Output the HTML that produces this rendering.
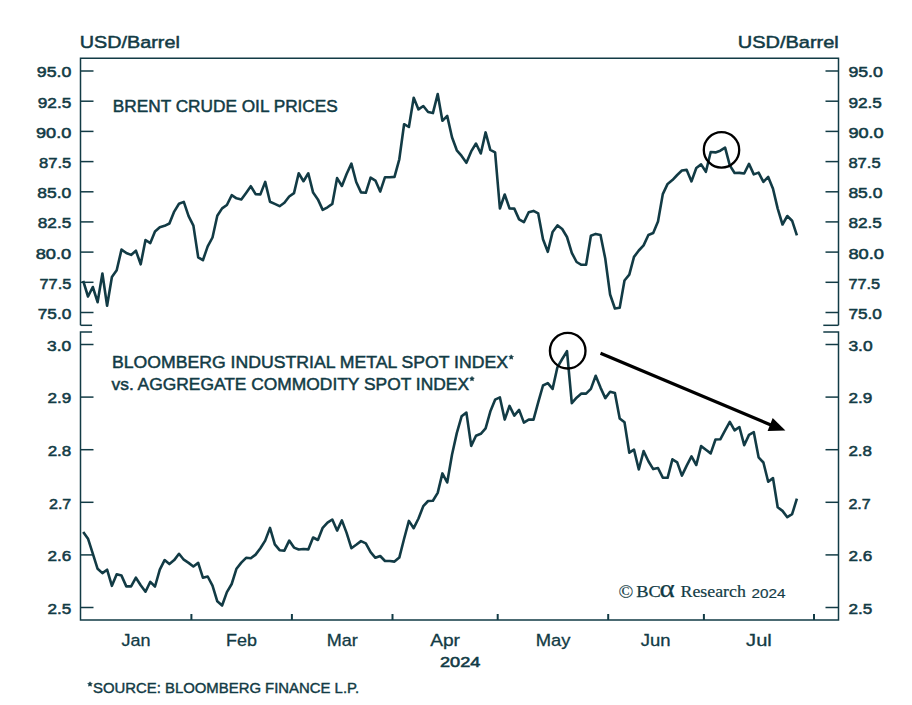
<!DOCTYPE html>
<html><head><meta charset="utf-8"><style>
html,body{margin:0;padding:0;background:#fff;width:912px;height:705px;overflow:hidden}
svg{display:block}
</style></head><body>
<svg width="912" height="705" viewBox="0 0 912 705">
<rect width="912" height="705" fill="#fff"/>
<g stroke="#123b45" stroke-width="1.5" fill="none" stroke-linecap="butt">
<path d="M80.5,325.3 V58.2 H838.5 V325.3"/>
<path d="M80.5,325.3 H92.1"/><path d="M838.5,325.3 H823.3"/>
<path d="M92.1,332.0 H80.5 V620.0 H838.5 V332.0 H823.3"/>
<path d="M80.5,71.0 H93.5"/><path d="M838.5,71.0 H825.5"/>
<path d="M80.5,101.2 H93.5"/><path d="M838.5,101.2 H825.5"/>
<path d="M80.5,131.4 H93.5"/><path d="M838.5,131.4 H825.5"/>
<path d="M80.5,161.6 H93.5"/><path d="M838.5,161.6 H825.5"/>
<path d="M80.5,191.8 H93.5"/><path d="M838.5,191.8 H825.5"/>
<path d="M80.5,221.9 H93.5"/><path d="M838.5,221.9 H825.5"/>
<path d="M80.5,252.1 H93.5"/><path d="M838.5,252.1 H825.5"/>
<path d="M80.5,282.3 H93.5"/><path d="M838.5,282.3 H825.5"/>
<path d="M80.5,312.5 H93.5"/><path d="M838.5,312.5 H825.5"/>
<path d="M80.5,344.5 H93.5"/><path d="M838.5,344.5 H825.5"/>
<path d="M80.5,397.1 H93.5"/><path d="M838.5,397.1 H825.5"/>
<path d="M80.5,449.7 H93.5"/><path d="M838.5,449.7 H825.5"/>
<path d="M80.5,502.3 H93.5"/><path d="M838.5,502.3 H825.5"/>
<path d="M80.5,554.9 H93.5"/><path d="M838.5,554.9 H825.5"/>
<path d="M80.5,607.5 H93.5"/><path d="M838.5,607.5 H825.5"/>
<path d="M191.4,620.0 V614.0" stroke-width="2"/>
<path d="M291.9,620.0 V614.0" stroke-width="2"/>
<path d="M392.5,620.0 V614.0" stroke-width="2"/>
<path d="M497.7,620.0 V614.0" stroke-width="2"/>
<path d="M608.2,620.0 V614.0" stroke-width="2"/>
<path d="M703.9,620.0 V614.0" stroke-width="2"/>
<path d="M814.0,620.0 V614.0" stroke-width="2"/>
</g>
<polyline fill="none" stroke="#123b45" stroke-width="2.6" stroke-linejoin="round" points="83.2,280.9 88.0,296.5 92.8,287.0 97.6,302.2 102.4,273.5 107.1,305.7 111.9,277.0 116.7,270.3 121.5,249.6 126.3,253.0 131.1,254.9 135.9,250.7 140.7,264.3 145.5,240.0 150.3,243.1 155.0,231.4 159.8,227.2 164.6,225.8 169.4,223.5 174.2,211.6 179.0,203.8 183.8,201.9 188.6,216.1 193.4,225.6 198.2,257.3 202.9,260.2 207.7,246.4 212.5,237.5 217.3,215.8 222.1,208.4 226.9,205.0 231.7,195.2 236.5,198.3 241.3,199.5 246.1,192.9 250.8,186.2 255.6,194.1 260.4,194.4 265.2,181.9 270.0,201.7 274.8,203.9 279.6,206.2 284.4,202.8 289.2,196.5 294.0,193.1 298.7,173.3 303.5,181.2 308.3,173.3 313.1,192.6 317.9,199.4 322.7,209.9 327.5,207.3 332.3,203.9 337.1,178.1 341.9,186.0 346.6,174.0 351.4,163.6 356.2,182.0 361.0,192.4 365.8,192.8 370.6,177.7 375.4,180.6 380.2,191.6 385.0,177.2 389.8,177.2 394.5,176.9 399.3,159.3 404.1,124.2 408.9,127.0 413.7,97.7 418.5,109.4 423.3,106.0 428.1,112.0 432.9,113.1 437.7,94.1 442.4,120.8 447.2,115.9 452.0,137.2 456.8,150.3 461.6,155.9 466.4,162.8 471.2,151.4 476.0,143.5 480.8,153.5 485.6,132.4 490.3,149.9 495.1,152.4 499.9,208.5 504.7,194.5 509.5,208.4 514.3,208.6 519.1,219.4 523.9,222.2 528.7,212.3 533.5,210.9 538.2,213.4 543.0,239.3 547.8,251.8 552.6,231.9 557.4,225.4 562.2,229.0 567.0,237.0 571.8,252.9 576.6,262.0 581.4,264.8 586.1,264.8 590.9,235.8 595.7,233.9 600.5,234.9 605.3,258.8 610.1,294.5 614.9,308.5 619.7,307.7 624.5,280.5 629.3,274.7 634.0,256.9 638.8,250.5 643.6,245.4 648.4,235.0 653.2,233.0 658.0,221.5 662.8,194.1 667.6,183.9 672.4,180.1 677.2,175.0 681.9,170.5 686.7,169.9 691.5,181.4 696.3,168.0 701.1,164.4 705.9,171.8 710.7,152.0 715.5,152.4 720.3,150.7 725.1,147.6 729.8,165.4 734.6,173.0 739.4,172.9 744.2,173.5 749.0,163.9 753.8,174.4 758.6,172.6 763.4,181.8 768.2,176.9 773.0,188.8 777.7,208.6 782.5,224.5 787.3,216.0 792.1,220.7 796.9,235.4"/>
<polyline fill="none" stroke="#123b45" stroke-width="2.6" stroke-linejoin="round" points="83.2,531.9 88.0,538.7 92.8,553.6 97.6,568.8 102.4,573.1 107.1,569.7 111.9,585.8 116.7,574.3 121.5,575.6 126.3,586.4 131.1,586.4 135.9,577.7 140.7,585.3 145.5,591.7 150.3,581.8 155.0,586.5 159.8,569.7 164.6,560.1 169.4,564.1 174.2,560.1 179.0,553.8 183.8,559.7 188.6,562.9 193.4,566.5 198.2,562.9 202.9,577.7 207.7,576.5 212.5,585.6 217.3,601.3 222.1,605.5 226.9,592.1 231.7,584.0 236.5,568.7 241.3,562.6 246.1,557.8 250.8,558.2 255.6,554.6 260.4,548.3 265.2,540.6 270.0,527.9 274.8,544.4 279.6,550.2 284.4,550.6 289.2,540.6 294.0,547.6 298.7,549.5 303.5,549.0 308.3,549.4 313.1,537.5 317.9,540.0 322.7,527.8 327.5,522.7 332.3,519.5 337.1,530.6 341.9,520.4 346.6,532.9 351.4,548.2 356.2,544.8 361.0,541.1 365.8,543.4 370.6,552.2 375.4,557.8 380.2,556.0 385.0,561.0 389.8,561.0 394.5,561.6 399.3,557.6 404.1,538.7 408.9,520.9 413.7,528.2 418.5,518.5 423.3,506.1 428.1,501.0 432.9,500.7 437.7,492.9 442.4,473.4 447.2,482.5 452.0,454.7 456.8,433.1 461.6,416.3 466.4,412.6 471.2,445.9 476.0,435.8 480.8,433.8 485.6,428.4 490.3,411.6 495.1,399.7 499.9,397.4 504.7,419.6 509.5,405.9 514.3,415.6 519.1,409.9 523.9,422.6 528.7,419.6 533.5,419.6 538.2,402.4 543.0,385.5 547.8,383.2 552.6,388.9 557.4,367.3 562.2,359.0 567.0,351.2 571.8,403.1 576.6,397.7 581.4,393.6 586.1,393.6 590.9,388.9 595.7,375.8 600.5,387.6 605.3,398.1 610.1,391.8 614.9,393.1 619.7,418.4 624.5,422.3 629.3,452.7 634.0,449.6 638.8,469.5 643.6,451.1 648.4,461.3 653.2,469.1 658.0,468.0 662.8,477.6 667.6,477.8 672.4,459.3 677.2,462.4 681.9,475.6 686.7,465.6 691.5,456.3 696.3,465.0 701.1,446.1 705.9,449.7 710.7,453.4 715.5,439.5 720.3,439.3 725.1,430.4 729.8,421.9 734.6,430.4 739.4,427.0 744.2,445.2 749.0,434.9 753.8,432.2 758.6,457.3 763.4,462.5 768.2,481.8 773.0,478.1 777.7,507.2 782.5,510.9 787.3,517.2 792.1,514.2 796.9,498.7"/>
<circle cx="721.5" cy="149.9" r="17.7" fill="none" stroke="#000" stroke-width="2.3"/>
<circle cx="567.7" cy="350.7" r="17.8" fill="none" stroke="#000" stroke-width="2.3"/>
<path d="M600.5,353.3 L775,426.7" stroke="#000" stroke-width="3.2" fill="none"/>
<path d="M785.4,430.5 L772.7,418 L767.6,430.9 Z" fill="#000"/>
<g fill="#123b45" font-family="Liberation Sans, sans-serif">
<text x="79.8" y="47.6" font-size="17.4" textLength="100" lengthAdjust="spacingAndGlyphs" stroke="#123b45" stroke-width="0.5">USD/Barrel</text>
<text x="737.8" y="47.6" font-size="17.4" textLength="101" lengthAdjust="spacingAndGlyphs" stroke="#123b45" stroke-width="0.5">USD/Barrel</text>
<text x="36.8" y="77.3" font-size="15.5" stroke="#123b45" stroke-width="0.55" textLength="34.5" lengthAdjust="spacingAndGlyphs">95.0</text>
<text x="848.4" y="77.3" font-size="15.5" stroke="#123b45" stroke-width="0.55" textLength="34.5" lengthAdjust="spacingAndGlyphs">95.0</text>
<text x="37.8" y="107.5" font-size="15.5" stroke="#123b45" stroke-width="0.55" textLength="33.5" lengthAdjust="spacingAndGlyphs">92.5</text>
<text x="848.4" y="107.5" font-size="15.5" stroke="#123b45" stroke-width="0.55" textLength="33.5" lengthAdjust="spacingAndGlyphs">92.5</text>
<text x="36.0" y="137.7" font-size="15.5" stroke="#123b45" stroke-width="0.55" textLength="35.3" lengthAdjust="spacingAndGlyphs">90.0</text>
<text x="848.4" y="137.7" font-size="15.5" stroke="#123b45" stroke-width="0.55" textLength="35.3" lengthAdjust="spacingAndGlyphs">90.0</text>
<text x="39.0" y="167.9" font-size="15.5" stroke="#123b45" stroke-width="0.55" textLength="32.3" lengthAdjust="spacingAndGlyphs">87.5</text>
<text x="848.4" y="167.9" font-size="15.5" stroke="#123b45" stroke-width="0.55" textLength="32.3" lengthAdjust="spacingAndGlyphs">87.5</text>
<text x="37.3" y="198.1" font-size="15.5" stroke="#123b45" stroke-width="0.55" textLength="34.0" lengthAdjust="spacingAndGlyphs">85.0</text>
<text x="848.4" y="198.1" font-size="15.5" stroke="#123b45" stroke-width="0.55" textLength="34.0" lengthAdjust="spacingAndGlyphs">85.0</text>
<text x="37.8" y="228.3" font-size="15.5" stroke="#123b45" stroke-width="0.55" textLength="33.5" lengthAdjust="spacingAndGlyphs">82.5</text>
<text x="848.4" y="228.3" font-size="15.5" stroke="#123b45" stroke-width="0.55" textLength="33.5" lengthAdjust="spacingAndGlyphs">82.5</text>
<text x="35.7" y="258.5" font-size="15.5" stroke="#123b45" stroke-width="0.55" textLength="35.6" lengthAdjust="spacingAndGlyphs">80.0</text>
<text x="848.4" y="258.5" font-size="15.5" stroke="#123b45" stroke-width="0.55" textLength="35.6" lengthAdjust="spacingAndGlyphs">80.0</text>
<text x="39.5" y="288.7" font-size="15.5" stroke="#123b45" stroke-width="0.55" textLength="31.8" lengthAdjust="spacingAndGlyphs">77.5</text>
<text x="848.4" y="288.7" font-size="15.5" stroke="#123b45" stroke-width="0.55" textLength="31.8" lengthAdjust="spacingAndGlyphs">77.5</text>
<text x="37.8" y="318.8" font-size="15.5" stroke="#123b45" stroke-width="0.55" textLength="33.5" lengthAdjust="spacingAndGlyphs">75.0</text>
<text x="848.4" y="318.8" font-size="15.5" stroke="#123b45" stroke-width="0.55" textLength="33.5" lengthAdjust="spacingAndGlyphs">75.0</text>
<text x="47.1" y="350.8" font-size="15.5" stroke="#123b45" stroke-width="0.55" textLength="24.2" lengthAdjust="spacingAndGlyphs">3.0</text>
<text x="848.4" y="350.8" font-size="15.5" stroke="#123b45" stroke-width="0.55" textLength="24.2" lengthAdjust="spacingAndGlyphs">3.0</text>
<text x="47.5" y="403.4" font-size="15.5" stroke="#123b45" stroke-width="0.55" textLength="23.8" lengthAdjust="spacingAndGlyphs">2.9</text>
<text x="848.4" y="403.4" font-size="15.5" stroke="#123b45" stroke-width="0.55" textLength="23.8" lengthAdjust="spacingAndGlyphs">2.9</text>
<text x="47.7" y="456.0" font-size="15.5" stroke="#123b45" stroke-width="0.55" textLength="23.6" lengthAdjust="spacingAndGlyphs">2.8</text>
<text x="848.4" y="456.0" font-size="15.5" stroke="#123b45" stroke-width="0.55" textLength="23.6" lengthAdjust="spacingAndGlyphs">2.8</text>
<text x="49.0" y="508.6" font-size="15.5" stroke="#123b45" stroke-width="0.55" textLength="22.3" lengthAdjust="spacingAndGlyphs">2.7</text>
<text x="848.4" y="508.6" font-size="15.5" stroke="#123b45" stroke-width="0.55" textLength="22.3" lengthAdjust="spacingAndGlyphs">2.7</text>
<text x="47.5" y="561.2" font-size="15.5" stroke="#123b45" stroke-width="0.55" textLength="23.8" lengthAdjust="spacingAndGlyphs">2.6</text>
<text x="848.4" y="561.2" font-size="15.5" stroke="#123b45" stroke-width="0.55" textLength="23.8" lengthAdjust="spacingAndGlyphs">2.6</text>
<text x="47.5" y="613.8" font-size="15.5" stroke="#123b45" stroke-width="0.55" textLength="23.8" lengthAdjust="spacingAndGlyphs">2.5</text>
<text x="848.4" y="613.8" font-size="15.5" stroke="#123b45" stroke-width="0.55" textLength="23.8" lengthAdjust="spacingAndGlyphs">2.5</text>
<text x="112.8" y="111.5" font-size="17.4" textLength="225" lengthAdjust="spacingAndGlyphs" stroke="#123b45" stroke-width="0.5">BRENT CRUDE OIL PRICES</text>
<text x="112" y="368.3" font-size="17.4" textLength="396" lengthAdjust="spacingAndGlyphs" stroke="#123b45" stroke-width="0.5">BLOOMBERG INDUSTRIAL METAL SPOT INDEX</text>
<text x="111.5" y="389.7" font-size="17.4" textLength="357.5" lengthAdjust="spacingAndGlyphs" stroke="#123b45" stroke-width="0.5">vs. AGGREGATE COMMODITY SPOT INDEX</text>
<text x="121.4" y="645.6" font-size="16.8" textLength="29.0" lengthAdjust="spacingAndGlyphs" stroke="#123b45" stroke-width="0.3">Jan</text>
<text x="226.1" y="645.6" font-size="16.8" textLength="30.9" lengthAdjust="spacingAndGlyphs" stroke="#123b45" stroke-width="0.3">Feb</text>
<text x="326.7" y="645.6" font-size="16.8" textLength="31.0" lengthAdjust="spacingAndGlyphs" stroke="#123b45" stroke-width="0.3">Mar</text>
<text x="430.2" y="645.6" font-size="16.8" textLength="29.8" lengthAdjust="spacingAndGlyphs" stroke="#123b45" stroke-width="0.3">Apr</text>
<text x="535.8" y="645.6" font-size="16.8" textLength="34.7" lengthAdjust="spacingAndGlyphs" stroke="#123b45" stroke-width="0.3">May</text>
<text x="640.7" y="645.6" font-size="16.8" textLength="29.8" lengthAdjust="spacingAndGlyphs" stroke="#123b45" stroke-width="0.3">Jun</text>
<text x="746.1" y="645.6" font-size="16.8" textLength="25.7" lengthAdjust="spacingAndGlyphs" stroke="#123b45" stroke-width="0.3">Jul</text>
<text x="440" y="666.9" font-size="14.6" stroke="#123b45" stroke-width="0.55" textLength="40.3" lengthAdjust="spacingAndGlyphs">2024</text>
<text x="93.0" y="693.1" font-size="14" textLength="266.2" lengthAdjust="spacingAndGlyphs" stroke="#123b45" stroke-width="0.4">SOURCE: BLOOMBERG FINANCE L.P.</text>
<polygon points="511.20,354.80 511.93,356.19 513.48,356.46 512.39,357.59 512.61,359.14 511.20,358.45 509.79,359.14 510.01,357.59 508.92,356.46 510.47,356.19" fill="#123b45" stroke="#123b45" stroke-width="0.6" stroke-linejoin="round"/>
<polygon points="472.00,376.40 472.73,377.79 474.28,378.06 473.19,379.19 473.41,380.74 472.00,380.05 470.59,380.74 470.81,379.19 469.72,378.06 471.27,377.79" fill="#123b45" stroke="#123b45" stroke-width="0.6" stroke-linejoin="round"/>
<polygon points="90.00,681.80 90.73,683.19 92.28,683.46 91.19,684.59 91.41,686.14 90.00,685.45 88.59,686.14 88.81,684.59 87.72,683.46 89.27,683.19" fill="#123b45" stroke="#123b45" stroke-width="0.6" stroke-linejoin="round"/>
</g>
<g fill="#123b45">
<text x="618.6" y="598.2" font-family="Liberation Serif, serif" font-size="19.5" stroke="#123b45" stroke-width="0.15">©</text>
<text x="636.2" y="597.4" font-family="Liberation Serif, serif" font-size="17.5" textLength="24.6" lengthAdjust="spacingAndGlyphs" stroke="#123b45" stroke-width="0.25">BC</text>
<text x="659.6" y="597.4" font-family="Liberation Serif, serif" font-size="25" textLength="15.2" lengthAdjust="spacingAndGlyphs" stroke="#123b45" stroke-width="0.25">α</text>
<text x="680.5" y="597.4" font-family="Liberation Serif, serif" font-size="17" textLength="65.3" lengthAdjust="spacingAndGlyphs" stroke="#123b45" stroke-width="0.2">Research</text>
<text x="751.6" y="597.6" font-family="Liberation Sans, sans-serif" font-size="12.4" textLength="34" lengthAdjust="spacingAndGlyphs" stroke="#123b45" stroke-width="0.15">2024</text>
</g>
</svg>
</body></html>
